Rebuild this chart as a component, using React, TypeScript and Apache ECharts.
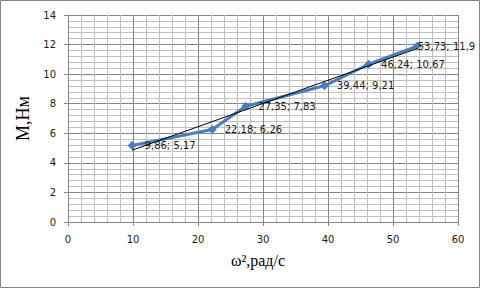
import React, { useEffect, useRef } from "react";
import * as echarts from "echarts";

const xValues = [9.86, 22.18, 27.35, 39.44, 46.24, 53.73];
const yValues = [5.17, 6.26, 7.83, 9.21, 10.67, 11.9];
const xAxisTitle = "ω²,рад/с";
const yAxisTitle = "M,Нм";

const fmt = (v: number) => String(v).replace(".", ",");

function linearFit(xs: number[], ys: number[]) {
  const n = xs.length;
  const mx = xs.reduce((a, b) => a + b, 0) / n;
  const my = ys.reduce((a, b) => a + b, 0) / n;
  let sxy = 0;
  let sxx = 0;
  for (let i = 0; i < n; i++) {
    sxy += (xs[i] - mx) * (ys[i] - my);
    sxx += (xs[i] - mx) * (xs[i] - mx);
  }
  const k = sxy / sxx;
  return { k, b: my - k * mx };
}

export default function App() {
  const ref = useRef<HTMLDivElement>(null);
  useEffect(() => {
    if (!ref.current) return;
    const chart = echarts.init(ref.current, undefined, { renderer: "svg" });
    const fit = linearFit(xValues, yValues);
    const xMin = Math.min(...xValues);
    const xMax = Math.max(...xValues);
    const trend = [
      [xMin, fit.k * xMin + fit.b],
      [xMax, fit.k * xMax + fit.b],
    ];
    const data = xValues.map((x, i) => {
      const item: any = { value: [x, yValues[i]] };
      if (i === xValues.length - 1) item.label = { distance: -4 };
      return item;
    });
    const labelFont = { fontFamily: "DejaVu Sans", fontSize: 10, color: "#1a1a1a" };
    chart.setOption({
      animation: false,
      backgroundColor: "#ffffff",
      grid: { left: 68, right: 23, top: 15, bottom: 67 },
      graphic: [
        {
          type: "rect",
          shape: { x: 0.5, y: 0.5, width: 479, height: 287 },
          style: { fill: "none", stroke: "#868686", lineWidth: 1 },
          z: 0,
        },
      ],
      xAxis: {
        type: "value",
        min: 0,
        max: 60,
        interval: 10,
        name: xAxisTitle,
        nameLocation: "middle",
        nameGap: 30,
        nameTextStyle: { fontFamily: "Liberation Serif", fontSize: 16, color: "#000", padding: [0, 10, 0, 0] },
        axisLine: { show: true, onZero: false, lineStyle: { color: "#868686", width: 1 } },
        axisTick: { show: true, length: 4, lineStyle: { color: "#868686" } },
        axisLabel: { ...labelFont, margin: 12 },
        splitLine: { show: true, lineStyle: { color: "#868686", width: 1 } },
        minorTick: { show: false, splitNumber: 5 },
        minorSplitLine: { show: true, lineStyle: { color: "#c0c0c0", width: 1 } },
      },
      yAxis: {
        type: "value",
        min: 0,
        max: 14,
        interval: 2,
        name: yAxisTitle,
        nameLocation: "middle",
        nameGap: 32,
        nameRotate: 90,
        nameTextStyle: { fontFamily: "Liberation Serif", fontSize: 18, color: "#000" },
        axisLine: { show: true, lineStyle: { color: "#868686", width: 1 } },
        axisTick: { show: true, length: 4, lineStyle: { color: "#868686" } },
        axisLabel: { ...labelFont, margin: 12 },
        splitLine: { show: true, lineStyle: { color: "#868686", width: 1 } },
        minorTick: { show: false, splitNumber: 5 },
        minorSplitLine: { show: true, lineStyle: { color: "#c0c0c0", width: 1 } },
      },
      series: [
        {
          type: "line",
          data,
          symbol: "diamond",
          symbolSize: 9,
          itemStyle: { color: "#4A7EBB" },
          lineStyle: { color: "#4A7EBB", width: 3 },
          label: {
            show: true,
            position: "right",
            distance: 8,
            ...labelFont,
            formatter: (p: any) => `${fmt(p.value[0])}; ${fmt(p.value[1])}`,
          },
          z: 3,
        },
        {
          type: "line",
          data: trend,
          symbol: "none",
          lineStyle: { color: "#000000", width: 1 },
          z: 4,
          silent: true,
        },
      ],
    });
    return () => chart.dispose();
  }, []);
  return (
    <div
      ref={ref}
      style={{ position: "fixed", left: 0, top: 0, width: 481, height: 289 }}
    />
  );
}
